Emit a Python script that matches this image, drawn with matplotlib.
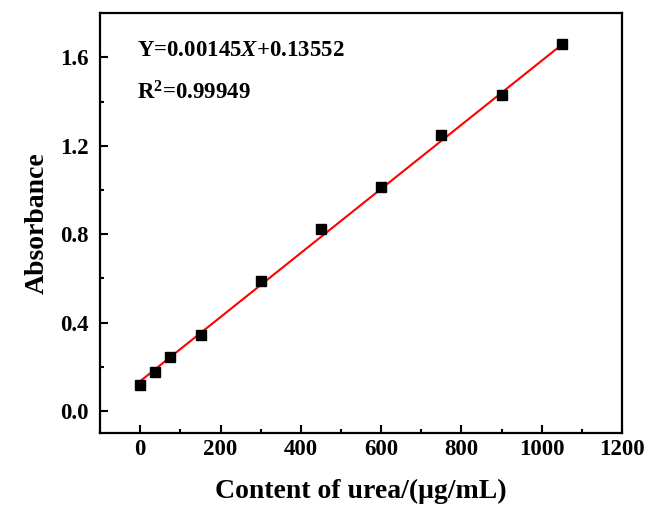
import numpy as np
import matplotlib.pyplot as plt
from matplotlib.ticker import MultipleLocator

plt.rcParams['font.family'] = ['Liberation Serif', 'DejaVu Serif']
plt.rcParams['font.weight'] = 'bold'
plt.rcParams['mathtext.fontset'] = 'custom'
plt.rcParams['mathtext.rm'] = 'Liberation Serif:bold'
plt.rcParams['mathtext.it'] = 'Liberation Serif:bold:italic'

# urea standard curve
conc = [0, 37.5, 75, 150, 300, 450, 600, 750, 900, 1050]
absorb = [0.118, 0.178, 0.246, 0.346, 0.588, 0.825, 1.016, 1.249, 1.431, 1.659]
slope = 0.00145
intercept = 0.13552
r2 = 0.99949

fig = plt.figure(figsize=(6.46, 5.09), dpi=100)
ax = fig.add_axes([0.155, 0.149, 0.808, 0.825])

xfit = np.array([conc[0], conc[-1]])
ax.plot(xfit, slope * xfit + intercept, color='red', lw=1.5, zorder=2)
ax.plot(conc, absorb, 's', color='black', ms=7.5, zorder=3)

ax.set_xlim(-100, 1200)
ax.set_ylim(-0.1, 1.8)
ax.xaxis.set_major_locator(MultipleLocator(200))
ax.xaxis.set_minor_locator(MultipleLocator(100))
ax.yaxis.set_major_locator(MultipleLocator(0.4))
ax.yaxis.set_minor_locator(MultipleLocator(0.2))
ax.yaxis.set_major_formatter(plt.FormatStrFormatter('%.1f'))

ax.tick_params(which='both', direction='in', width=1.5, labelsize=16.5, top=False, right=False)
ax.tick_params(which='major', length=6)
ax.tick_params(axis='x', which='major', pad=4)
ax.tick_params(axis='y', which='major', pad=8)
ax.tick_params(which='minor', length=3)
for s in ax.spines.values():
    s.set_linewidth(1.6)

ax.set_xlabel('Content of urea/(μg/mL)', fontsize=20, fontweight='bold', labelpad=14)
ax.set_ylabel('Absorbance', fontsize=20, fontweight='bold', labelpad=8)

ax.text(0.07, 0.912, 'Y=0.00145$X$+0.13552', transform=ax.transAxes, fontsize=16.5,
        fontweight='bold', va='center')
ax.text(0.07, 0.81, 'R$^2$=0.99949', transform=ax.transAxes, fontsize=16.5,
        fontweight='bold', va='center')

fig.savefig('out.png', dpi=100)
